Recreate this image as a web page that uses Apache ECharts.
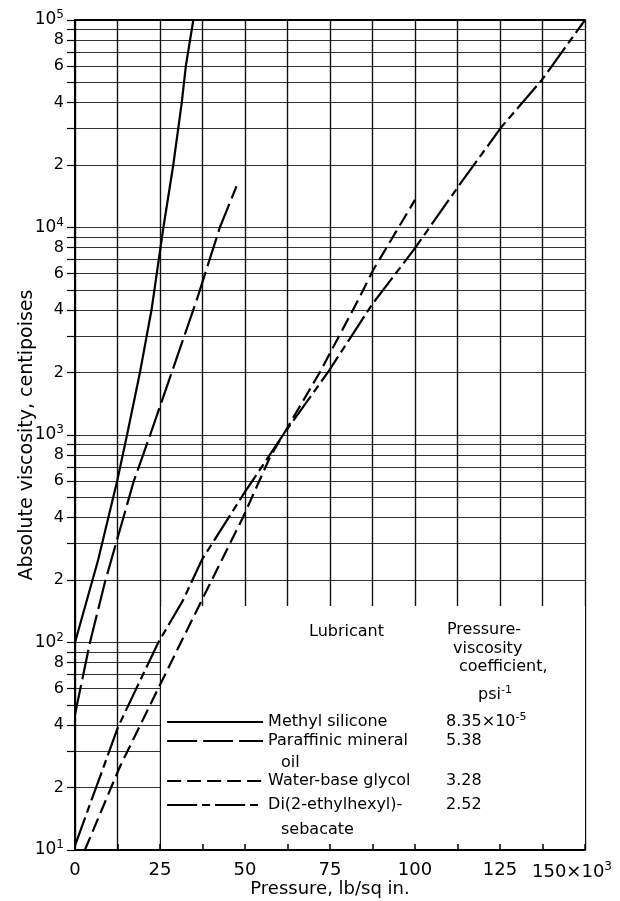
<!DOCTYPE html>
<html><head><meta charset="utf-8">
<script src="https://cdn.jsdelivr.net/npm/echarts@6/dist/echarts.min.js"></script>
<style>html,body{margin:0;padding:0;background:#fff}#c{width:620px;height:901px}</style>
</head><body><div id="c"></div>
<script>
// ---------- data ----------
const xTickLabels = ['0', '25', '50', '75', '100', '125', '150'];
const seriesNames = ['Methyl silicone', 'Paraffinic mineral oil', 'Water-base glycol', 'Di(2-ethylhexyl)-sebacate'];
const legendLine1 = ['Methyl silicone', 'Paraffinic mineral', 'Water-base glycol', 'Di(2-ethylhexyl)-'];
const legendLine2 = ['', 'oil', '', 'sebacate'];
const coefMantissa = ['8.35×10', '5.38', '3.28', '2.52'];
const coefExponent = ['-5', '', '', ''];

// pressure in 10^3 lb/sq in, viscosity in centipoises
const methylP = [0, 6.8, 12.4, 15.3, 19.1, 22.5, 26.0, 28.9, 31.4, 32.6, 34.8];
const methylV = [100, 250, 600, 1000, 2000, 4000, 10000, 20000, 40000, 60000, 100000];
const paraffinP = [0, 4.4, 8.8, 11.8, 17.3, 22.1, 35.8, 42.6, 47.5];
const paraffinV = [45, 100, 195, 290, 600, 1000, 4475, 10000, 15800];
const glycolP = [2.9, 13.2, 25.2, 37.3, 49.5, 57.4, 61.2, 72.1, 83.3, 87.7, 100];
const glycolV = [10, 25.2, 63.5, 160, 404, 785, 1000, 2018, 4475, 6240, 13580];
const diesterP = [0, 12.7, 24.5, 31.8, 37.3, 49.4, 61.2, 74.5, 87.3, 100, 112.7, 125.5, 137.3, 150];
const diesterV = [10.5, 39.3, 100, 160, 250, 514, 1000, 2018, 4240, 7950, 15740, 30600, 51400, 100000];

// ---------- layout / style ----------
const FONT = 'DejaVu Sans';
const lineTypes = ['solid', [30, 6], [14, 6], [30, 5, 8, 5]];
const legendRowY = [722, 743, 783, 807];
const legendLine2Y = [0, 763, 0, 830];

const gridValues = [];
for (let d = 10; d < 100000; d *= 10) for (let m = 1; m < 10; m++) gridValues.push(d * m);
gridValues.push(100000);
const yLabelValues = gridValues.filter(v => {
  const e = Math.floor(Math.log10(v) + 1e-9);
  const m = Math.round(v / Math.pow(10, e));
  return m === 1 || m % 2 === 0;
});

const seriesP = [methylP, paraffinP, glycolP, diesterP];
const seriesV = [methylV, paraffinV, glycolV, diesterV];

const chart = echarts.init(document.getElementById('c'));

const series = seriesNames.map((name, i) => ({
  name, type: 'line', xAxisIndex: 0, yAxisIndex: 0, z: 3,
  symbol: 'none', smooth: false, silent: true,
  lineStyle: { color: '#000', width: 2.2, type: lineTypes[i], join: 'round' },
  itemStyle: { color: '#000' },
  data: seriesP[i].map((p, k) => [p, seriesV[i][k]])
}));
series.push({
  name: 'box', type: 'line', z: 1, data: [], silent: true,
  markArea: { silent: true, itemStyle: { color: '#fff', opacity: 1 },
    data: [[{ xAxis: 25.3, yAxis: 150 }, { xAxis: 150, yAxis: 10 }]] }
});

const legends = seriesNames.map((name, i) => ({
  data: [name], left: 166, top: legendRowY[i] - 10, padding: 0, selectedMode: false,
  itemWidth: 96, itemHeight: 12, itemGap: 0,
  itemStyle: { opacity: 0, color: 'rgba(0,0,0,0)', borderWidth: 0 },
  lineStyle: { width: 2.2 },
  textStyle: { fontFamily: FONT, fontSize: 16, color: '#000',
    rich: {
      n: { fontFamily: FONT, fontSize: 16, color: '#000', width: 178, lineHeight: 20 },
      c: { fontFamily: FONT, fontSize: 16, color: '#000', lineHeight: 20 },
      s: { fontFamily: FONT, fontSize: 11, color: '#000', verticalAlign: 'top', lineHeight: 12 }
    } },
  formatter: () => '{n|' + legendLine1[i] + '}{c|' + coefMantissa[i] + '}' + (coefExponent[i] ? '{s|' + coefExponent[i] + '}' : '')
}));

const txt = (text, x, y, extra) => ({ type: 'text', x, y, z: 10, silent: true,
  style: Object.assign({ text, fontFamily: FONT, fontSize: 16, fill: '#000', align: 'left', verticalAlign: 'middle' }, extra || {}) });

const graphics = [
  txt('Absolute viscosity, centipoises', 27, 435, { align: 'center', fontSize: 19 }),
  txt('Lubricant', 309, 632),
  txt('Pressure-', 447, 630),
  txt('viscosity', 453, 649),
  txt('coefficient,', 459, 667),
  { type: 'text', x: 478, y: 695, z: 10, silent: true,
    style: { text: '{a|psi}{s|-1}', fontFamily: FONT, fontSize: 16, fill: '#000', verticalAlign: 'middle',
      rich: { a: { fontFamily: FONT, fontSize: 16, lineHeight: 20 }, s: { fontFamily: FONT, fontSize: 11, verticalAlign: 'top', lineHeight: 12 } } } }
];
legendLine2.forEach((t, i) => { if (t) graphics.push(txt(t, 281, legendLine2Y[i])); });
graphics[0].rotation = Math.PI / 2;

const yLabelFormatter = v => {
  const e = Math.floor(Math.log10(v) + 1e-9);
  const m = Math.round(v / Math.pow(10, e));
  if (m === 1) return '{b|10}{e|' + e + '}';
  return '{d|' + m + '}';
};

const option = {
  animation: false,
  backgroundColor: '#fff',
  grid: { left: 75, right: 35, top: 20, bottom: 51, outerBoundsMode: 'none', containLabel: false },
  legend: legends,
  graphic: graphics,
  xAxis: [
    { type: 'value', position: 'bottom', min: 0, max: 150, interval: 12.5, z: 5,
      axisLine: { show: true, onZero: false, lineStyle: { color: '#000', width: 2 } },
      axisTick: { show: true, inside: true, length: 6, lineStyle: { color: '#000', width: 1.5 } },
      axisLabel: { margin: 11, color: '#000', fontFamily: FONT, fontSize: 18, showMinLabel: true, showMaxLabel: true,
        rich: { a: { fontFamily: FONT, fontSize: 18, lineHeight: 22 }, s: { fontFamily: FONT, fontSize: 12, verticalAlign: 'top', lineHeight: 12, padding: [0, 26, 0, 0] } },
        formatter: v => {
          if (Math.abs(v % 25) > 1e-6) return '';
          const i = Math.round(v / 25);
          return i === xTickLabels.length - 1 ? '{a|' + xTickLabels[i] + '×10}{s|3}' : xTickLabels[i];
        } },
      splitLine: { show: false },
      name: 'Pressure, lb/sq in.', nameLocation: 'middle', nameGap: 30, nameMoveOverlap: false,
      nameTextStyle: { fontFamily: FONT, fontSize: 18, color: '#000' } },
    { type: 'value', position: 'top', min: 0, max: 150, interval: 12.5, z: 0,
      axisLine: { show: true, lineStyle: { color: '#000', width: 2 } },
      axisTick: { show: false }, axisLabel: { show: false },
      splitLine: { show: true, lineStyle: { color: '#111', width: 1.4 } } }
  ],
  yAxis: [
    { type: 'log', logBase: 10, min: 10, max: 100000, position: 'left', z: 5,
      axisLine: { show: true, lineStyle: { color: '#000', width: 2 } },
      axisTick: { show: false },
      axisLabel: { customValues: yLabelValues, margin: 11, color: '#000', formatter: yLabelFormatter,
        rich: {
          b: { fontFamily: FONT, fontSize: 17, color: '#000', lineHeight: 22 },
          e: { fontFamily: FONT, fontSize: 12, color: '#000', verticalAlign: 'top', lineHeight: 12 },
          d: { fontFamily: FONT, fontSize: 16, color: '#000' }
        } },
      splitLine: { show: false } },
    { type: 'log', logBase: 10, min: 10, max: 100000, position: 'right', z: 5,
      axisLine: { show: true, lineStyle: { color: '#000', width: 2 } },
      axisTick: { show: true, inside: true, length: 8, customValues: gridValues, lineStyle: { color: '#000', width: 1.2 } },
      axisLabel: { show: false }, splitLine: { show: false } },
    { type: 'log', logBase: 10, min: 10, max: 100000, position: 'left', z: 0,
      axisLine: { show: false },
      axisTick: { show: false, customValues: gridValues },
      axisLabel: { show: false },
      splitLine: { show: true, lineStyle: { color: '#333', width: 1 } } }
  ],
  series
};
chart.setOption(option);
</script></body></html>
